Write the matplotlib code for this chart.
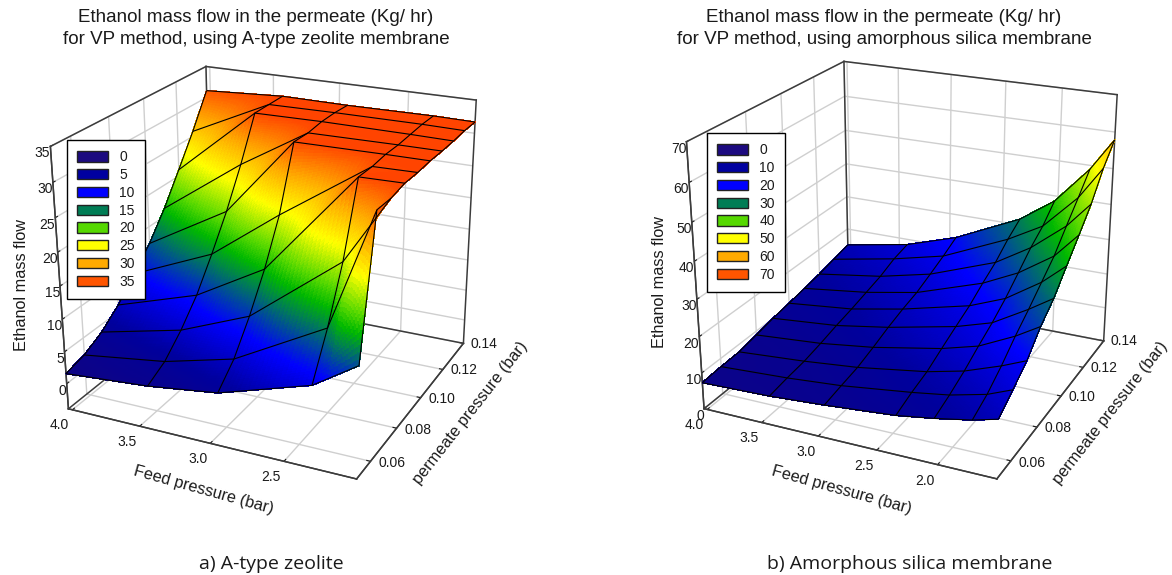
import numpy as np
import matplotlib
matplotlib.use("Agg")
import matplotlib.pyplot as plt
from matplotlib.colors import LinearSegmentedColormap, Normalize
from matplotlib.patches import Patch
from mpl_toolkits.mplot3d import Axes3D

W, H = 1172, 575

permeate = [0.05, 0.06, 0.07, 0.08, 0.09, 0.10, 0.11, 0.12, 0.13, 0.14]

# a) A-type zeolite: rows = feed pressure, columns = permeate pressure
feed_a = [4.03, 3.43, 2.94, 2.32, 2.03]
flow_a = [
    [1.6, 2.3, 3.8, 6.1, 9.2, 12.3, 16.3, 21.0, 25.8, 31.1],
    [2.6, 4.1, 6.8, 10.2, 14.7, 19.6, 25.3, 31.8, 31.8, 31.8],
    [4.0, 6.8, 11.1, 16.2, 22.5, 31.7, 31.6, 31.9, 31.9, 31.7],
    [8.2, 14.2, 21.6, 31.7, 31.6, 31.8, 31.7, 31.8, 31.9, 31.8],
    [12.4, 31.5, 31.4, 31.8, 31.7, 31.8, 31.7, 31.7, 31.8, 31.7],
]
legend_a = [0, 5, 10, 15, 20, 25, 30, 35]

# b) amorphous silica
feed_b = [4.03, 3.42, 2.94, 2.34, 2.03, 1.73, 1.53]
flow_b = [
    [7.3, 7.7, 7.9, 8.9, 10.0, 10.8, 11.7, 12.6, 13.8, 15.0],
    [7.9, 8.7, 9.3, 10.4, 11.7, 12.8, 14.1, 15.4, 17.3, 18.4],
    [8.9, 9.9, 10.8, 12.4, 14.2, 15.7, 16.9, 18.8, 20.8, 23.1],
    [10.5, 12.3, 13.7, 16.0, 18.2, 20.3, 23.1, 25.6, 29.0, 31.7],
    [12.0, 13.8, 16.0, 18.7, 21.2, 24.2, 27.8, 31.5, 34.4, 38.5],
    [13.8, 16.1, 19.4, 23.3, 26.7, 30.4, 34.1, 39.1, 43.9, 48.9],
    [15.5, 18.7, 22.1, 27.1, 30.8, 35.9, 40.9, 46.1, 52.8, 57.9],
]
legend_b = [0, 10, 20, 30, 40, 50, 60, 70]

legend_colors = ["#1c0a80", "#0000a0", "#0000ff", "#007d55",
                 "#55d800", "#ffff00", "#ffaa00", "#ff5500"]
# ramp of the surface, same colours plus the pure green between 15 and 20
ramp = LinearSegmentedColormap.from_list("ramp", [
    (0.0, "#14057a"), (1 / 7, "#00009c"), (2 / 7, "#0000ff"), (3 / 7, "#007d55"),
    (0.5, "#00b800"), (4 / 7, "#55d800"), (5 / 7, "#ffff00"), (6 / 7, "#ffaa00"),
    (1.0, "#ff4400")])

plt.rcParams["font.family"] = ["Liberation Sans", "DejaVu Sans"]
plt.rcParams["text.color"] = "#1a1a1a"
DARK = "#3c3c3c"
GRID = "#cfcfcf"


def refine(xs, ys, zs, n=20):
    # only for the smooth colour gradient, the black mesh stays on the real nodes
    zs = np.array(zs)
    ix = np.linspace(0, len(xs) - 1, (len(xs) - 1) * n + 1)
    iy = np.linspace(0, len(ys) - 1, (len(ys) - 1) * n + 1)
    zy = np.array([np.interp(iy, np.arange(len(ys)), row) for row in zs])
    zf = np.array([np.interp(ix, np.arange(len(xs)), col) for col in zy.T]).T
    xf = np.interp(ix, np.arange(len(xs)), xs)
    yf = np.interp(iy, np.arange(len(ys)), ys)
    return xf, yf, zf


def box_edges(ax, xlim, ylim, zlim):
    # dark frame, drawn over the light grid and under the surface
    x0, x1 = xlim
    y0, y1 = ylim
    z0, z1 = zlim
    edges = [((x0, x0), (y0, y0), (z0, z1)), ((x0, x0), (y1, y1), (z0, z1)),
             ((x1, x1), (y1, y1), (z0, z1)), ((x0, x0), (y0, y1), (z1, z1)),
             ((x0, x1), (y1, y1), (z1, z1)), ((x0, x1), (y0, y0), (z0, z0)),
             ((x1, x1), (y0, y1), (z0, z0)), ((x0, x1), (y1, y1), (z0, z0)),
             ((x0, x0), (y0, y1), (z0, z0))]
    for ex, ey, ez in edges:
        ax.plot(ex, ey, ez, color=DARK, linewidth=1.1, zorder=1)


def panel(fig, view, place, xs, zs, xlim, zlim, xticks, zticks, crange):
    elev, azim, roll, focal, ax_x, ax_y = view
    ax = fig.add_subplot(projection="3d", computed_zorder=False)
    ax.view_init(elev=elev, azim=azim, roll=roll)
    ax.set_proj_type("persp", focal_length=focal)
    ax.set_box_aspect((ax_x, ax_y, 1.0))
    s, tx, ty = place
    vl = ax.viewLim
    x0, x1 = tx + s * vl.x0, tx + s * vl.x1
    y0, y1 = ty + s * vl.y0, ty + s * vl.y1
    ax.set_position([x0 / W, 1 - (2 * ty - y0) / H, (x1 - x0) / W, (y1 - y0) / H])

    xf, yf, zf = refine(xs, permeate, zs)
    Y, X = np.meshgrid(yf, xf)
    surf_colors = ramp(Normalize(*crange)(zf))
    ax.plot_surface(X, Y, zf, rstride=1, cstride=1, facecolors=surf_colors,
                    shade=False, linewidth=0.5, antialiased=False, zorder=2)
    Y0, X0 = np.meshgrid(permeate, xs)
    ax.plot_wireframe(X0, Y0, np.array(zs), rstride=1, cstride=1,
                      color="black", linewidth=0.8, zorder=3)
    box_edges(ax, xlim, (0.05, 0.14), zlim)

    ax.set_xlim(*xlim)
    ax.set_ylim(0.05, 0.14)
    ax.set_zlim(*zlim)
    ax.set_xticks(xticks)
    ax.set_xticklabels([f"{v:.1f}" for v in xticks], ha="right", va="top")
    ax.set_yticks([0.06, 0.08, 0.10, 0.12, 0.14])
    ax.set_yticklabels(["0.06", "0.08", "0.10", "0.12", "0.14"], ha="left", va="bottom")
    ax.set_zticks(zticks)
    ax.set_zticklabels([str(v) for v in zticks], ha="right", va="top")
    for axis in (ax.xaxis, ax.yaxis, ax.zaxis):
        axis.pane.set_facecolor("white")
        axis.pane.set_edgecolor("none")
        axis.line.set_color(DARK)
        axis.line.set_linewidth(1.0)
        axis._axinfo["grid"].update(color=GRID, linewidth=1.0)
        axis._axinfo["tick"].update(color=DARK, outward_factor=0.15, inward_factor=0.0)
    ax.tick_params(labelsize=10, colors="#1a1a1a")
    ax.tick_params(axis="x", pad=-4)
    ax.tick_params(axis="y", pad=-3)
    ax.tick_params(axis="z", pad=-8)
    ax.zaxis.set_ticks_position("lower")
    return ax


def axis_names(fig, feed_xy, perm_xy, flow_xy):
    # placed by hand, mplot3d can only slide its axis labels along one direction
    fig.text(feed_xy[0] / W, 1 - feed_xy[1] / H, "Feed pressure (bar)", rotation=-15.5,
             ha="center", va="center", fontsize=11.7, rotation_mode="anchor")
    fig.text(perm_xy[0] / W, 1 - perm_xy[1] / H, "permeate pressure (bar)", rotation=52,
             ha="center", va="center", fontsize=11.7, rotation_mode="anchor")
    fig.text(flow_xy[0] / W, 1 - flow_xy[1] / H, "Ethanol mass flow", rotation=90,
             ha="center", va="center", fontsize=11.7, rotation_mode="anchor")


def value_legend(fig, labels, left, top):
    handles = [Patch(facecolor=c, edgecolor="#222222", linewidth=1.0) for c in legend_colors]
    leg = fig.legend(handles, [str(v) for v in labels], loc="upper left",
                     bbox_to_anchor=(left / W, 1 - top / H), borderaxespad=0,
                     fontsize=10, fancybox=False, framealpha=1, edgecolor="black",
                     handlelength=2.25, handleheight=0.75, handletextpad=0.8,
                     labelspacing=0.27, borderpad=0.75)
    leg.get_frame().set_linewidth(1.0)


fig = plt.figure(figsize=(W / 100, H / 100), dpi=100)

panel(fig, (22.726, -64.482, 0.27, 0.527, 1.128, 1.112), (2687.01, 274.12, 253.08),
      feed_a, flow_a, (4.03, 2.03), (-4, 35), [4.0, 3.5, 3.0, 2.5],
      [0, 5, 10, 15, 20, 25, 30, 35], (0, 31.8))
panel(fig, (22.461, -64.97, 0.116, 0.521, 1.125, 1.123), (2727.95, 912.99, 249.86),
      feed_b, flow_b, (4.03, 1.53), (0, 70), [4.0, 3.5, 3.0, 2.5, 2.0],
      [0, 10, 20, 30, 40, 50, 60, 70], (3, 70))

axis_names(fig, (204, 490), (470, 413), (22, 285))
axis_names(fig, (842, 490), (1110, 413), (659, 282))

value_legend(fig, legend_a, 66.5, 140)
value_legend(fig, legend_b, 706.5, 133)

fig.text(256 / W, 1 - 28.5 / H, "Ethanol mass flow in the permeate (Kg/ hr)\nfor VP method, using A-type zeolite membrane",
         ha="center", va="center", fontsize=13.5, linespacing=1.35)
fig.text(884 / W, 1 - 28.5 / H, "Ethanol mass flow in the permeate (Kg/ hr)\nfor VP method, using amorphous silica membrane",
         ha="center", va="center", fontsize=13.5, linespacing=1.35)
fig.text(271 / W, 1 - 564 / H, "a) A-type zeolite", ha="center", va="center",
         fontsize=14, family=["Open Sans", "DejaVu Sans"])
fig.text(910 / W, 1 - 564 / H, "b) Amorphous silica membrane", ha="center", va="center",
         fontsize=14, family=["Open Sans", "DejaVu Sans"])

fig.savefig("out.png", dpi=100)
